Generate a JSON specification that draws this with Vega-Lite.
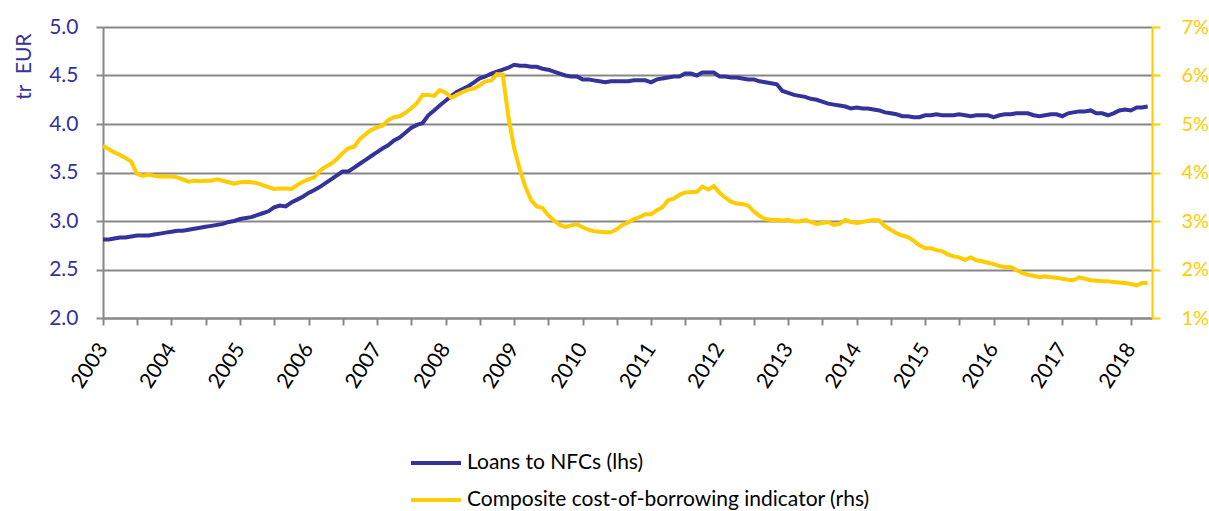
{
  "$schema": "https://vega.github.io/schema/vega-lite/v6.json",
  "width": 1049,
  "height": 291,
  "autosize": "none",
  "padding": {"left": 103, "top": 27, "right": 57, "bottom": 193},
  "background": "white",
  "config": {
    "font": "Lato",
    "view": {"stroke": null},
    "axis": {"labelFont": "Lato", "titleFont": "Lato"},
    "legend": {"labelFont": "Lato"}
  },
  "data": {
    "values": [
      {"d":"2003-01-01","l":2.81,"c":4.55},{"d":"2003-02-01","l":2.81,"c":4.48},{"d":"2003-03-01","l":2.82,"c":4.42},{"d":"2003-04-01","l":2.83,"c":4.36},{"d":"2003-05-01","l":2.83,"c":4.30},{"d":"2003-06-01","l":2.84,"c":4.22},{"d":"2003-07-01","l":2.85,"c":3.97},{"d":"2003-08-01","l":2.85,"c":3.93},{"d":"2003-09-01","l":2.85,"c":3.96},{"d":"2003-10-01","l":2.86,"c":3.93},{"d":"2003-11-01","l":2.87,"c":3.92},{"d":"2003-12-01","l":2.88,"c":3.92},
      {"d":"2004-01-01","l":2.89,"c":3.92},{"d":"2004-02-01","l":2.90,"c":3.90},{"d":"2004-03-01","l":2.90,"c":3.86},{"d":"2004-04-01","l":2.91,"c":3.81},{"d":"2004-05-01","l":2.92,"c":3.83},{"d":"2004-06-01","l":2.93,"c":3.82},{"d":"2004-07-01","l":2.94,"c":3.83},{"d":"2004-08-01","l":2.95,"c":3.83},{"d":"2004-09-01","l":2.96,"c":3.86},{"d":"2004-10-01","l":2.97,"c":3.83},{"d":"2004-11-01","l":2.99,"c":3.80},{"d":"2004-12-01","l":3.00,"c":3.77},
      {"d":"2005-01-01","l":3.02,"c":3.80},{"d":"2005-02-01","l":3.03,"c":3.81},{"d":"2005-03-01","l":3.04,"c":3.80},{"d":"2005-04-01","l":3.06,"c":3.78},{"d":"2005-05-01","l":3.08,"c":3.74},{"d":"2005-06-01","l":3.10,"c":3.70},{"d":"2005-07-01","l":3.14,"c":3.66},{"d":"2005-08-01","l":3.16,"c":3.67},{"d":"2005-09-01","l":3.15,"c":3.67},{"d":"2005-10-01","l":3.19,"c":3.66},{"d":"2005-11-01","l":3.22,"c":3.74},{"d":"2005-12-01","l":3.25,"c":3.81},
      {"d":"2006-01-01","l":3.29,"c":3.86},{"d":"2006-02-01","l":3.32,"c":3.90},{"d":"2006-03-01","l":3.35,"c":4.03},{"d":"2006-04-01","l":3.39,"c":4.12},{"d":"2006-05-01","l":3.43,"c":4.18},{"d":"2006-06-01","l":3.47,"c":4.28},{"d":"2006-07-01","l":3.51,"c":4.40},{"d":"2006-08-01","l":3.51,"c":4.50},{"d":"2006-09-01","l":3.55,"c":4.53},{"d":"2006-10-01","l":3.59,"c":4.69},{"d":"2006-11-01","l":3.63,"c":4.79},{"d":"2006-12-01","l":3.67,"c":4.88},
      {"d":"2007-01-01","l":3.71,"c":4.93},{"d":"2007-02-01","l":3.75,"c":4.97},{"d":"2007-03-01","l":3.78,"c":5.08},{"d":"2007-04-01","l":3.83,"c":5.14},{"d":"2007-05-01","l":3.86,"c":5.16},{"d":"2007-06-01","l":3.91,"c":5.23},{"d":"2007-07-01","l":3.96,"c":5.32},{"d":"2007-08-01","l":3.99,"c":5.43},{"d":"2007-09-01","l":4.01,"c":5.60},{"d":"2007-10-01","l":4.09,"c":5.60},{"d":"2007-11-01","l":4.14,"c":5.58},{"d":"2007-12-01","l":4.19,"c":5.70},
      {"d":"2008-01-01","l":4.24,"c":5.65},{"d":"2008-02-01","l":4.29,"c":5.54},{"d":"2008-03-01","l":4.33,"c":5.60},{"d":"2008-04-01","l":4.36,"c":5.66},{"d":"2008-05-01","l":4.39,"c":5.71},{"d":"2008-06-01","l":4.43,"c":5.73},{"d":"2008-07-01","l":4.47,"c":5.80},{"d":"2008-08-01","l":4.49,"c":5.88},{"d":"2008-09-01","l":4.52,"c":5.90},{"d":"2008-10-01","l":4.54,"c":6.03},{"d":"2008-11-01","l":4.56,"c":6.02},{"d":"2008-12-01","l":4.58,"c":5.15},
      {"d":"2009-01-01","l":4.61,"c":4.50},{"d":"2009-02-01","l":4.60,"c":4.05},{"d":"2009-03-01","l":4.60,"c":3.71},{"d":"2009-04-01","l":4.59,"c":3.43},{"d":"2009-05-01","l":4.59,"c":3.30},{"d":"2009-06-01","l":4.57,"c":3.27},{"d":"2009-07-01","l":4.56,"c":3.12},{"d":"2009-08-01","l":4.54,"c":3.01},{"d":"2009-09-01","l":4.52,"c":2.92},{"d":"2009-10-01","l":4.50,"c":2.88},{"d":"2009-11-01","l":4.49,"c":2.91},{"d":"2009-12-01","l":4.49,"c":2.93},
      {"d":"2010-01-01","l":4.46,"c":2.87},{"d":"2010-02-01","l":4.46,"c":2.82},{"d":"2010-03-01","l":4.45,"c":2.79},{"d":"2010-04-01","l":4.44,"c":2.78},{"d":"2010-05-01","l":4.43,"c":2.77},{"d":"2010-06-01","l":4.44,"c":2.77},{"d":"2010-07-01","l":4.44,"c":2.83},{"d":"2010-08-01","l":4.44,"c":2.92},{"d":"2010-09-01","l":4.44,"c":2.97},{"d":"2010-10-01","l":4.45,"c":3.04},{"d":"2010-11-01","l":4.45,"c":3.08},{"d":"2010-12-01","l":4.45,"c":3.14},
      {"d":"2011-01-01","l":4.43,"c":3.14},{"d":"2011-02-01","l":4.46,"c":3.22},{"d":"2011-03-01","l":4.47,"c":3.28},{"d":"2011-04-01","l":4.48,"c":3.43},{"d":"2011-05-01","l":4.49,"c":3.46},{"d":"2011-06-01","l":4.49,"c":3.54},{"d":"2011-07-01","l":4.52,"c":3.59},{"d":"2011-08-01","l":4.52,"c":3.60},{"d":"2011-09-01","l":4.50,"c":3.60},{"d":"2011-10-01","l":4.53,"c":3.71},{"d":"2011-11-01","l":4.53,"c":3.65},{"d":"2011-12-01","l":4.53,"c":3.72},
      {"d":"2012-01-01","l":4.49,"c":3.58},{"d":"2012-02-01","l":4.49,"c":3.48},{"d":"2012-03-01","l":4.48,"c":3.40},{"d":"2012-04-01","l":4.48,"c":3.36},{"d":"2012-05-01","l":4.47,"c":3.35},{"d":"2012-06-01","l":4.46,"c":3.32},{"d":"2012-07-01","l":4.46,"c":3.20},{"d":"2012-08-01","l":4.44,"c":3.10},{"d":"2012-09-01","l":4.43,"c":3.04},{"d":"2012-10-01","l":4.42,"c":3.02},{"d":"2012-11-01","l":4.41,"c":3.02},{"d":"2012-12-01","l":4.34,"c":3.01},
      {"d":"2013-01-01","l":4.32,"c":3.02},{"d":"2013-02-01","l":4.30,"c":2.99},{"d":"2013-03-01","l":4.29,"c":2.99},{"d":"2013-04-01","l":4.28,"c":3.02},{"d":"2013-05-01","l":4.26,"c":2.98},{"d":"2013-06-01","l":4.25,"c":2.94},{"d":"2013-07-01","l":4.23,"c":2.96},{"d":"2013-08-01","l":4.21,"c":2.98},{"d":"2013-09-01","l":4.20,"c":2.92},{"d":"2013-10-01","l":4.19,"c":2.94},{"d":"2013-11-01","l":4.18,"c":3.02},{"d":"2013-12-01","l":4.16,"c":2.98},
      {"d":"2014-01-01","l":4.17,"c":2.96},{"d":"2014-02-01","l":4.16,"c":2.98},{"d":"2014-03-01","l":4.16,"c":3.00},{"d":"2014-04-01","l":4.15,"c":3.02},{"d":"2014-05-01","l":4.14,"c":3.01},{"d":"2014-06-01","l":4.12,"c":2.89},{"d":"2014-07-01","l":4.11,"c":2.82},{"d":"2014-08-01","l":4.10,"c":2.75},{"d":"2014-09-01","l":4.08,"c":2.70},{"d":"2014-10-01","l":4.08,"c":2.67},{"d":"2014-11-01","l":4.07,"c":2.59},{"d":"2014-12-01","l":4.07,"c":2.50},
      {"d":"2015-01-01","l":4.09,"c":2.44},{"d":"2015-02-01","l":4.09,"c":2.44},{"d":"2015-03-01","l":4.10,"c":2.40},{"d":"2015-04-01","l":4.09,"c":2.38},{"d":"2015-05-01","l":4.09,"c":2.31},{"d":"2015-06-01","l":4.09,"c":2.27},{"d":"2015-07-01","l":4.10,"c":2.25},{"d":"2015-08-01","l":4.09,"c":2.20},{"d":"2015-09-01","l":4.08,"c":2.25},{"d":"2015-10-01","l":4.09,"c":2.19},{"d":"2015-11-01","l":4.09,"c":2.17},{"d":"2015-12-01","l":4.09,"c":2.14},
      {"d":"2016-01-01","l":4.07,"c":2.11},{"d":"2016-02-01","l":4.09,"c":2.07},{"d":"2016-03-01","l":4.10,"c":2.05},{"d":"2016-04-01","l":4.10,"c":2.05},{"d":"2016-05-01","l":4.11,"c":1.99},{"d":"2016-06-01","l":4.11,"c":1.93},{"d":"2016-07-01","l":4.11,"c":1.89},{"d":"2016-08-01","l":4.09,"c":1.87},{"d":"2016-09-01","l":4.08,"c":1.84},{"d":"2016-10-01","l":4.09,"c":1.86},{"d":"2016-11-01","l":4.10,"c":1.84},{"d":"2016-12-01","l":4.10,"c":1.83},
      {"d":"2017-01-01","l":4.08,"c":1.81},{"d":"2017-02-01","l":4.11,"c":1.79},{"d":"2017-03-01","l":4.12,"c":1.78},{"d":"2017-04-01","l":4.13,"c":1.84},{"d":"2017-05-01","l":4.13,"c":1.81},{"d":"2017-06-01","l":4.14,"c":1.78},{"d":"2017-07-01","l":4.11,"c":1.77},{"d":"2017-08-01","l":4.11,"c":1.76},{"d":"2017-09-01","l":4.09,"c":1.76},{"d":"2017-10-01","l":4.11,"c":1.74},{"d":"2017-11-01","l":4.14,"c":1.73},{"d":"2017-12-01","l":4.15,"c":1.72},
      {"d":"2018-01-01","l":4.14,"c":1.70},{"d":"2018-02-01","l":4.17,"c":1.67},{"d":"2018-03-01","l":4.17,"c":1.72},{"d":"2018-04-01","l":4.18,"c":1.72}
    ]
  },
  "encoding": {
    "x": {
      "field": "d",
      "type": "temporal",
      "scale": {"type": "utc", "domain": [{"year": 2003, "month": 1, "date": 1, "utc": true}, {"year": 2018, "month": 4, "date": 24, "utc": true}]},
      "axis": {
        "title": null,
        "grid": false,
        "tickCount": {"interval": "month", "step": 6},
        "labelExpr": "utcmonth(datum.value) == 0 ? utcFormat(datum.value, '%Y') : ''",
        "labelOverlap": false,
        "labelFlush": false,
        "labelAngle": -57,
        "labelFontSize": 21,
        "labelColor": "#000000",
        "labelPadding": 20,
        "domainColor": "#888888",
        "domainWidth": 2,
        "tickColor": "#888888",
        "tickWidth": 2,
        "tickSize": 7
      }
    },
    "color": {
      "scale": {
        "domain": ["Loans to NFCs (lhs)", "Composite cost-of-borrowing indicator (rhs)"],
        "range": ["#333399", "#FFCC00"]
      },
      "legend": {
        "title": null,
        "orient": "none",
        "legendX": 306,
        "legendY": 409,
        "direction": "vertical",
        "symbolType": "stroke",
        "symbolSize": 2500,
        "symbolStrokeWidth": 4,
        "labelFontSize": 21,
        "labelColor": "#000000",
        "labelOffset": 4,
        "labelLimit": 0,
        "rowPadding": -8,
        "padding": 0
      }
    }
  },
  "layer": [
    {
      "mark": {"type": "line", "strokeWidth": 4},
      "encoding": {
        "y": {
          "field": "l",
          "type": "quantitative",
          "scale": {"domain": [2, 5], "nice": false, "zero": false},
          "axis": {
            "title": "tr\u00a0\u00a0EUR",
            "titleColor": "#333399",
            "titleFontSize": 21,
            "titleFontWeight": "normal",
            "titleX": -73,
            "titleY": 6,
            "titleAngle": -90,
            "titleAlign": "right",
            "titleBaseline": "alphabetic",
            "values": [2, 2.5, 3, 3.5, 4, 4.5, 5],
            "format": ".1f",
            "labelFontSize": 21,
            "labelColor": "#333399",
            "labelPadding": 18,
            "tickSize": 7,
            "tickColor": "#888888",
            "tickWidth": 2,
            "domainColor": "#888888",
            "domainWidth": 2,
            "grid": true,
            "gridColor": "#888888",
            "gridWidth": 2
          }
        },
        "color": {"datum": "Loans to NFCs (lhs)"}
      }
    },
    {
      "mark": {"type": "line", "strokeWidth": 4},
      "encoding": {
        "y": {
          "field": "c",
          "type": "quantitative",
          "scale": {"domain": [1, 7], "nice": false, "zero": false},
          "axis": {
            "orient": "right",
            "title": null,
            "values": [1, 2, 3, 4, 5, 6, 7],
            "labelExpr": "datum.value + '%'",
            "labelFontSize": 20,
            "labelColor": "#FFCC00",
            "labelPadding": 21,
            "tickSize": 8,
            "tickColor": "#FFCC00",
            "tickWidth": 2,
            "domainColor": "#FFCC00",
            "domainWidth": 2,
            "grid": false
          }
        },
        "color": {"datum": "Composite cost-of-borrowing indicator (rhs)"}
      }
    }
  ],
  "resolve": {"scale": {"y": "independent"}}
}
